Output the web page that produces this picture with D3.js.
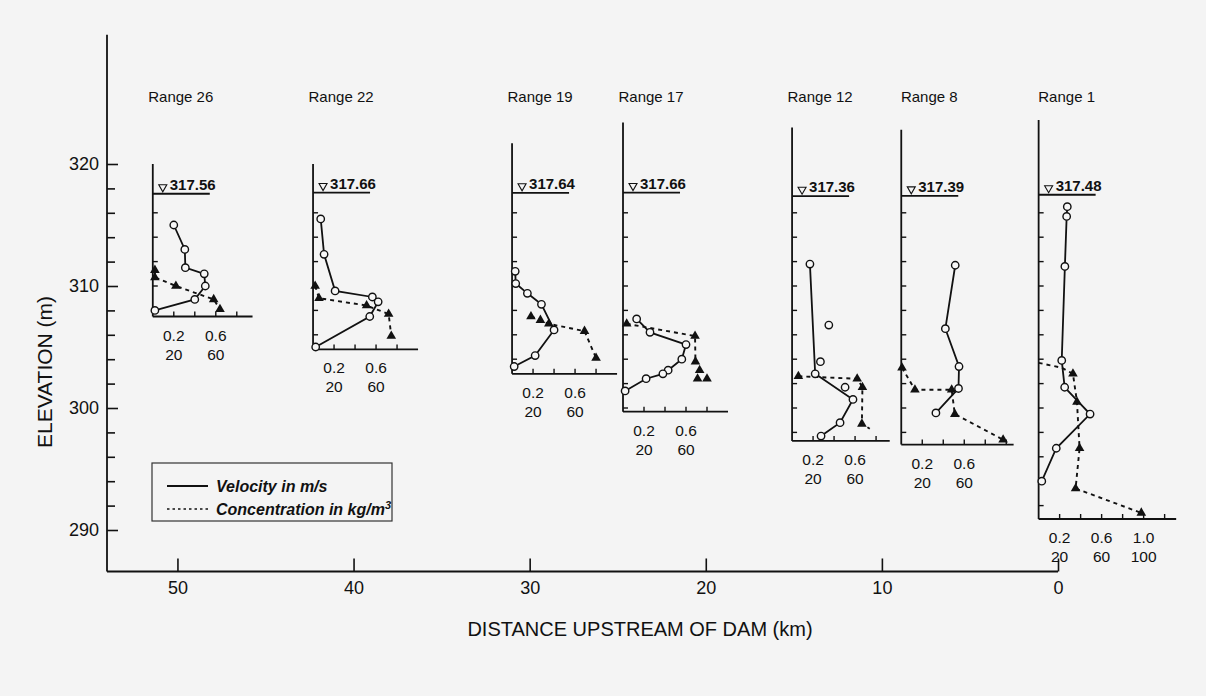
<!DOCTYPE html>
<html>
<head>
<meta charset="utf-8">
<title>Density current profiles</title>
<script src="https://cdn.jsdelivr.net/npm/d3@7"></script>
<style>
  body { margin: 0; background: #f4f4f4; }
  svg { display: block; font-family: "Liberation Sans", Arial, sans-serif; }
</style>
</head>
<body>
<svg id="chart" width="1206" height="696"></svg>
<script>
// profile stations, left to right
var rangeNames = ["Range 26", "Range 22", "Range 19", "Range 17", "Range 12", "Range 8", "Range 1"];
var rangeKm = [51.4, 42.3, 31.0, 24.7, 15.1, 8.9, 1.1];
var surfaceElev = [317.56, 317.66, 317.64, 317.66, 317.36, 317.39, 317.48];
var profileTop = [320.0, 320.0, 321.7, 323.4, 323.0, 322.8, 323.6];
var profileBottom = [307.5, 304.8, 302.8, 299.7, 297.3, 297.0, 290.9];
var profileWidth = [0.95, 1.0, 1.0, 1.0, 0.93, 1.07, 1.31];
var labelTicks = [[0.2, 0.6], [0.2, 0.6], [0.2, 0.6], [0.2, 0.6], [0.2, 0.6], [0.2, 0.6], [0.2, 0.6, 1.0]];

// velocity (m/s, elevation m)
var vel26 = [[0.20, 315.0], [0.305, 313.0], [0.31, 311.5], [0.49, 311.0], [0.50, 310.0], [0.40, 308.9], [0.02, 308.0]];
var vel22 = [[0.073, 315.5], [0.105, 312.6], [0.21, 309.6], [0.565, 309.1], [0.62, 308.7], [0.54, 307.5], [0.025, 305.0]];
var vel19 = [[0.03, 311.2], [0.035, 310.2], [0.146, 309.4], [0.28, 308.5], [0.40, 306.4], [0.22, 304.3], [0.02, 303.4]];
var vel17 = [[0.13, 307.3], [0.257, 306.2], [0.60, 305.2], [0.56, 304.0], [0.43, 303.1], [0.38, 302.8], [0.22, 302.4], [0.02, 301.4]];
var vel12 = [[0.17, 311.8], [0.22, 302.8], [0.58, 300.7], [0.457, 298.8], [0.276, 297.7]];
var vel8 = [[0.514, 311.7], [0.42, 306.5], [0.55, 303.4], [0.545, 301.6], [0.33, 299.6]];
var vel1 = [[0.273, 316.5], [0.267, 315.7], [0.25, 311.6], [0.22, 303.9], [0.248, 301.7], [0.49, 299.5], [0.168, 296.7], [0.03, 294.0]];
// velocity readings not joined by the line
var velLoose12 = [[0.35, 306.8], [0.27, 303.8], [0.505, 301.7]];

// concentration (kg/m3, elevation m)
var conc26 = [[2, 311.3], [2, 310.7], [22, 310.0], [58, 308.9], [64, 308.1]];
var conc22 = [[2, 310.0], [5.7, 309.0], [51, 308.4], [72, 307.7], [74.5, 305.9]];
var conc19 = [[18, 307.5], [27, 307.2], [35, 306.9], [69, 306.3], [80, 304.1]];
var conc17 = [[3.5, 306.9], [68.6, 305.9], [69, 303.8]];
var conc12 = [[6, 302.6], [62, 302.4], [67, 301.7], [66.5, 298.7]];
var conc8 = [[0.7, 303.3], [13, 301.5], [48, 301.5], [51, 299.5], [97, 297.4]];
var conc1 = [[32.7, 302.8], [36.5, 300.5], [39, 296.7], [35.2, 293.4], [97.8, 291.4]];
var concLoose17 = [[73, 303.1], [71, 302.4], [80, 302.4]];
// dashed line ends drawn without a marker
var concLead1 = [[0, 303.7], [22, 303.3]];
var concTail12 = [[74, 298.3]];

var velocity = [vel26, vel22, vel19, vel17, vel12, vel8, vel1];
var velLoose = [[], [], [], [], velLoose12, [], []];
var concentration = [conc26, conc22, conc19, conc17, conc12, conc8, conc1];
var concLoose = [[], [], [], concLoose17, [], [], []];
var concLead = [[], [], [], [], [], [], concLead1];
var concTail = [[], [], [], [], concTail12, [], []];

var kmTicks = [50, 40, 30, 20, 10, 0];
var ink = "#111";

var svg = d3.select("#chart");

var x = d3.scaleLinear().domain([54, 0]).range([107, 1058]);
var y = d3.scaleLinear().domain([290, 320]).range([530, 164]);
var elevLow = 286.6, elevHigh = 330.6;
var pxPerUnit = 105;

// main frame
svg.append("line")
  .attr("x1", x(54)).attr("x2", x(54))
  .attr("y1", y(elevHigh)).attr("y2", y(elevLow))
  .attr("stroke", ink).attr("stroke-width", 1.8);
svg.append("line")
  .attr("x1", x(54)).attr("x2", x(0))
  .attr("y1", y(elevLow)).attr("y2", y(elevLow))
  .attr("stroke", ink).attr("stroke-width", 1.8);

var yAxis = svg.append("g")
  .attr("transform", "translate(" + x(54) + ",0)")
  .call(d3.axisLeft(y).tickValues(d3.range(290, 321, 2))
    .tickSize(-9).tickSizeOuter(0).tickPadding(8)
    .tickFormat(function(d) { return d % 10 === 0 ? d : ""; }));
yAxis.select(".domain").remove();
yAxis.selectAll("line").attr("stroke", ink).attr("stroke-width", 1.6)
  .attr("x2", function(d) { return d % 10 === 0 ? 11 : 8; });
yAxis.selectAll("text").attr("fill", ink).style("font-size", "18px")
  .style("font-family", "Liberation Sans, Arial, sans-serif");

var xAxis = svg.append("g")
  .attr("transform", "translate(0," + y(elevLow) + ")")
  .call(d3.axisBottom(x).tickValues(kmTicks).tickSize(-13).tickSizeOuter(0).tickPadding(10));
xAxis.select(".domain").remove();
xAxis.selectAll("line").attr("stroke", ink).attr("stroke-width", 1.6);
xAxis.selectAll("text").attr("fill", ink).style("font-size", "18px")
  .style("font-family", "Liberation Sans, Arial, sans-serif");

svg.append("text")
  .attr("transform", "translate(52,372) rotate(-90)")
  .attr("text-anchor", "middle").attr("fill", ink)
  .style("font-size", "21px")
  .text("ELEVATION (m)");

svg.append("text")
  .attr("x", 640).attr("y", 636)
  .attr("text-anchor", "middle").attr("fill", ink)
  .style("font-size", "20px")
  .text("DISTANCE UPSTREAM OF DAM (km)");

var tri = d3.symbol().type(d3.symbolTriangle).size(40);

rangeNames.forEach(function(name, i) {
  var ox = x(rangeKm[i]);
  var v = d3.scaleLinear().domain([0, 1]).range([ox, ox + pxPerUnit]);
  var c = d3.scaleLinear().domain([0, 100]).range([ox, ox + pxPerUnit]);
  var g = svg.append("g");
  var yb = y(profileBottom[i]);

  g.append("text")
    .attr("x", ox + 28).attr("y", 102)
    .attr("text-anchor", "middle").attr("fill", ink)
    .style("font-size", "15px")
    .text(name);

  // local axes
  g.append("line")
    .attr("x1", ox).attr("x2", ox)
    .attr("y1", y(profileTop[i])).attr("y2", yb)
    .attr("stroke", ink).attr("stroke-width", 1.8);
  g.append("line")
    .attr("x1", ox).attr("x2", v(profileWidth[i]))
    .attr("y1", yb).attr("y2", yb)
    .attr("stroke", ink).attr("stroke-width", 1.8);

  var eTicks = d3.range(Math.ceil(profileBottom[i] / 2) * 2, surfaceElev[i] - 1, 2);
  g.selectAll(".et").data(eTicks).enter().append("line")
    .attr("x1", ox).attr("x2", ox + 5)
    .attr("y1", function(d) { return y(d); }).attr("y2", function(d) { return y(d); })
    .attr("stroke", ink).attr("stroke-width", 1.4);

  var vTicks = d3.range(0.2, profileWidth[i] - 0.05, 0.2);
  g.selectAll(".vt").data(vTicks).enter().append("line")
    .attr("x1", function(d) { return v(d); }).attr("x2", function(d) { return v(d); })
    .attr("y1", yb).attr("y2", yb - 5)
    .attr("stroke", ink).attr("stroke-width", 1.4);

  labelTicks[i].forEach(function(t) {
    g.append("text")
      .attr("x", v(t)).attr("y", yb + 24)
      .attr("text-anchor", "middle").attr("fill", ink)
      .style("font-size", "15.5px")
      .text(t.toFixed(1));
    g.append("text")
      .attr("x", v(t)).attr("y", yb + 43)
      .attr("text-anchor", "middle").attr("fill", ink)
      .style("font-size", "15.5px")
      .text(Math.round(t * 100));
  });

  // water surface
  var ys = y(surfaceElev[i]);
  g.append("line")
    .attr("x1", ox).attr("x2", ox + 57)
    .attr("y1", ys).attr("y2", ys)
    .attr("stroke", ink).attr("stroke-width", 1.8);
  g.append("path")
    .attr("d", "M" + (ox + 6) + "," + (ys - 9) + "h8l-4,7z")
    .attr("fill", "none").attr("stroke", ink).attr("stroke-width", 1.1);
  g.append("text")
    .attr("x", ox + 17).attr("y", ys - 4)
    .attr("fill", ink)
    .style("font-size", "15px").style("font-weight", "bold")
    .text(surfaceElev[i].toFixed(2));

  // concentration
  var concLine = d3.line().x(function(d) { return c(d[0]); }).y(function(d) { return y(d[1]); });
  g.append("path")
    .attr("d", concLine(concLead[i].concat(concentration[i], concTail[i])))
    .attr("fill", "none").attr("stroke", ink)
    .attr("stroke-width", 1.9).attr("stroke-dasharray", "4,4");
  g.selectAll(".tri").data(concentration[i].concat(concLoose[i])).enter().append("path")
    .attr("d", tri)
    .attr("transform", function(d) { return "translate(" + c(d[0]) + "," + y(d[1]) + ")"; })
    .attr("fill", ink);

  // velocity
  var velLine = d3.line().x(function(d) { return v(d[0]); }).y(function(d) { return y(d[1]); });
  g.append("path")
    .attr("d", velLine(velocity[i]))
    .attr("fill", "none").attr("stroke", ink).attr("stroke-width", 1.8);
  g.selectAll(".dot").data(velocity[i].concat(velLoose[i])).enter().append("circle")
    .attr("cx", function(d) { return v(d[0]); })
    .attr("cy", function(d) { return y(d[1]); })
    .attr("r", 3.7)
    .attr("fill", "#f7f7f7").attr("stroke", ink).attr("stroke-width", 1.4);
});

// legend
var lg = svg.append("g");
lg.append("rect")
  .attr("x", 152).attr("y", 463).attr("width", 240).attr("height", 58)
  .attr("fill", "none").attr("stroke", "#333").attr("stroke-width", 1.2);
lg.append("line")
  .attr("x1", 167).attr("x2", 208).attr("y1", 486).attr("y2", 486)
  .attr("stroke", ink).attr("stroke-width", 1.8);
lg.append("line")
  .attr("x1", 167).attr("x2", 208).attr("y1", 509).attr("y2", 509)
  .attr("stroke", ink).attr("stroke-width", 1.5).attr("stroke-dasharray", "2.5,3");
lg.append("text")
  .attr("x", 216).attr("y", 492).attr("fill", ink)
  .style("font-size", "16px").style("font-weight", "bold").style("font-style", "italic")
  .text("Velocity in m/s");
var ct = lg.append("text")
  .attr("x", 216).attr("y", 515).attr("fill", ink)
  .style("font-size", "16px").style("font-weight", "bold").style("font-style", "italic")
  .text("Concentration in kg/m");
ct.append("tspan").attr("dy", -6).style("font-size", "11px").text("3");
</script>
</body>
</html>
